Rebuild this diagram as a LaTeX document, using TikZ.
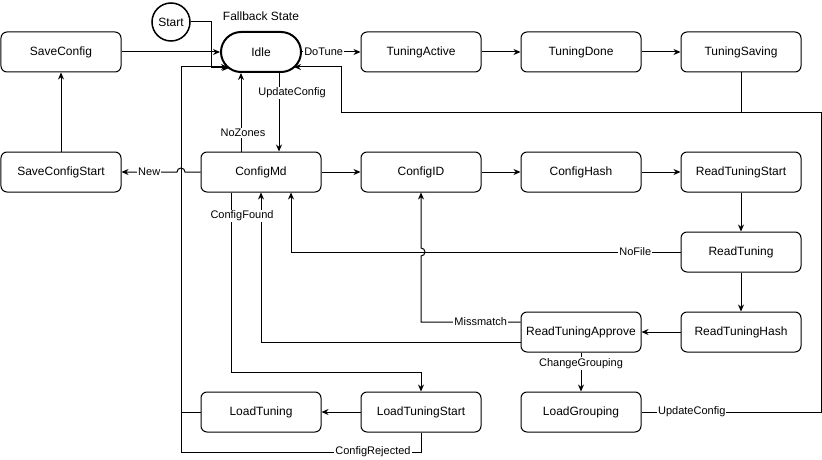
\documentclass[tikz,border=0pt]{standalone}
\usepackage{fontspec}
\setmainfont{Liberation Sans}
\usetikzlibrary{arrows.meta,calc}
\tikzset{
  box/.style={draw, rounded corners=6pt, minimum width=120pt, minimum height=40pt, inner sep=0pt, font=\fontsize{12}{14}\selectfont},
  lbl/.style={fill=white, inner sep=1pt, font=\fontsize{11}{13}\selectfont},
  arr/.style={-{Stealth[length=7pt,width=6pt]}}
}
\begin{document}
\begin{tikzpicture}[x=1pt,y=1pt,line width=1pt]
\useasboundingbox (-1,1) rectangle (821,-459);
% nodes
\node[draw, circle, minimum size=38pt, inner sep=0pt, line width=1.5pt, font=\fontsize{12}{14}\selectfont] (start) at (170,-21) {Start};
\node[font=\fontsize{12}{14}\selectfont] (fallback) at (260,-15) {Fallback State};
\node[draw, line width=2pt, rounded corners=20pt, minimum width=80pt, minimum height=40pt, inner sep=0pt, font=\fontsize{12}{14}\selectfont] (idle) at (260,-51) {Idle};
\node[box] (saveconfig) at (60,-51) {SaveConfig};
\node[box] (tuningactive) at (420,-51) {TuningActive};
\node[box] (tuningdone) at (580,-51) {TuningDone};
\node[box] (tuningsaving) at (740,-51) {TuningSaving};
\node[box] (saveconfigstart) at (60,-171) {SaveConfigStart};
\node[box] (configmd) at (260,-171) {ConfigMd};
\node[box] (configid) at (420,-171) {ConfigID};
\node[box] (confighash) at (580,-171) {ConfigHash};
\node[box] (readtuningstart) at (740,-171) {ReadTuningStart};
\node[box] (readtuning) at (740,-251) {ReadTuning};
\node[box] (readtuninghash) at (740,-331) {ReadTuningHash};
\node[box] (readtuningapprove) at (580,-331) {ReadTuningApprove};
\node[box] (loadgrouping) at (580,-411) {LoadGrouping};
\node[box] (loadtuningstart) at (420,-411) {LoadTuningStart};
\node[box] (loadtuning) at (260,-411) {LoadTuning};
% edges
\draw[arr] (start.east) -- (210,-21) |- ($(idle.center)+(-32,-16)$);
\draw[arr] (saveconfig.east) -- (idle.west);
\draw[arr] (idle.east) -- node[lbl,pos=0.37] (ldotune) {DoTune} (tuningactive.west);
\draw[arr] (tuningactive.east) -- (tuningdone.west);
\draw[arr] (tuningdone.east) -- (tuningsaving.west);
\draw[arr] (tuningsaving.south) |- (340,-111) |- ($(idle.center)+(33,-15)$);
\draw (loadgrouping.east) -- node[lbl,pos=0.28] (lupd2) {UpdateConfig} (820,-411) |- (340,-111);
\draw[arr] (saveconfigstart.north) -- (saveconfig.south);
\draw[arr] (configmd.west) -- (184,-171) arc[start angle=0,end angle=180,radius=4] -- node[lbl,pos=0.5] (lnew) {New} (saveconfigstart.east);
\draw[arr] ($(idle.south)+(18,0)$) -- ($(configmd.north)+(18,0)$);
\node[lbl] (lupd1) at (291,-92) {UpdateConfig};
\draw[arr] ($(configmd.north)+(-20,0)$) -- ($(idle.south)+(-20,0)$);
\node[lbl] (lnozones) at (242,-132) {NoZones};
\draw[arr] (configmd.east) -- (configid.west);
\draw[arr] (configid.east) -- (confighash.west);
\draw[arr] (confighash.east) -- (readtuningstart.west);
\draw[arr] (readtuningstart.south) -- (readtuning.north);
\draw[arr] (readtuning.south) -- (readtuninghash.north);
\draw[arr] (readtuninghash.west) -- (readtuningapprove.east);
\draw[arr] (readtuning.west) -- node[lbl,pos=0.116] (lnofile) {NoFile} (290,-251) -- ($(configmd.south)+(30,0)$);
\draw[arr] ($(readtuningapprove.west)+(0,10)$) -- node[lbl,pos=0.4] (lmiss) {Missmatch} (420,-321) -- (420,-255) arc[start angle=-90,end angle=90,radius=4] -- (configid.south);
\draw[arr] ($(readtuningapprove.west)+(0,-10)$) -- (260,-341) -- (configmd.south);
\draw[arr] ($(configmd.south)+(-30,0)$) -- (230,-371) -| (loadtuningstart.north);
\node[lbl] (lfound) at (241,-215) {ConfigFound};
\draw[arr] (readtuningapprove.south) -- node[lbl,pos=0.28] (lchg) {ChangeGrouping} (loadgrouping.north);
\draw[arr] (loadtuningstart.west) -- (loadtuning.east);
\draw[arr] (loadtuning.west) -- (180,-411) -- (180,-66) -- ($(idle.center)+(-33,-15)$);
\draw (loadtuningstart.south) |- node[lbl,pos=0.6] (lrej) {ConfigRejected} (180,-451) -- (180,-411);
\end{tikzpicture}
\end{document}
